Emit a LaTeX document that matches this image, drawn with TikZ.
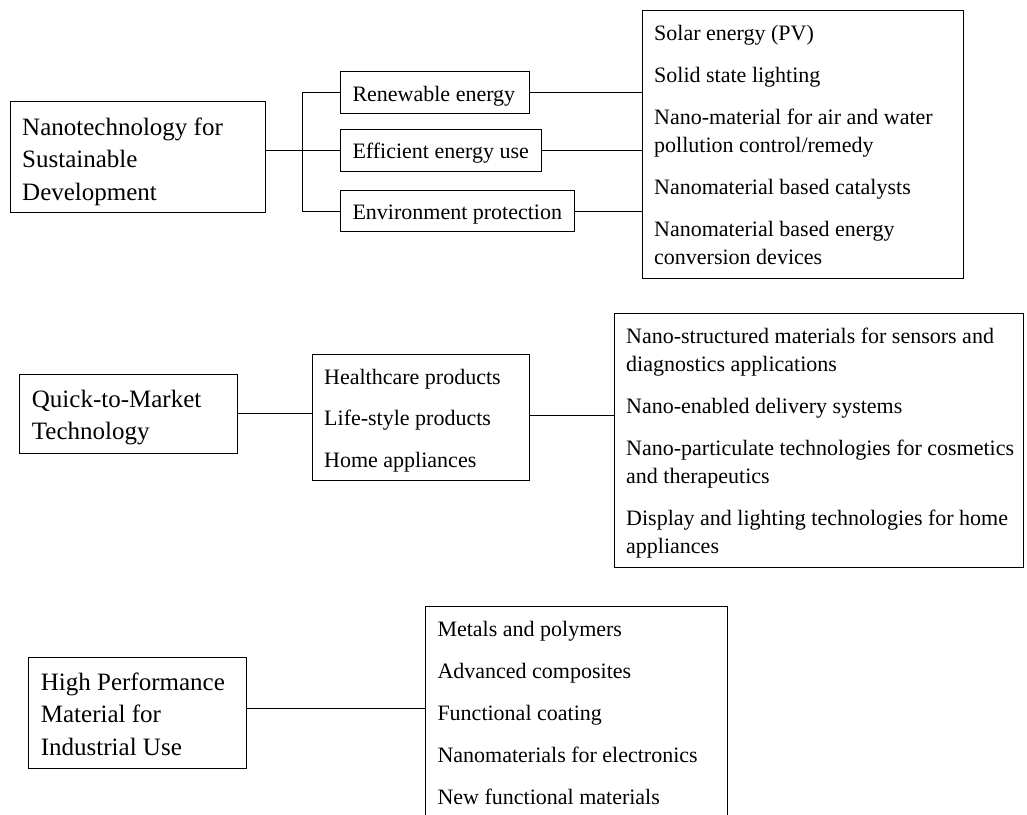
\documentclass[tikz,border=0pt]{standalone}
\usepackage{fontspec}
\setmainfont{Liberation Serif}
\begin{document}
\begin{tikzpicture}[x=1pt,y=-1pt,
  box/.style={draw=black, line width=0.9pt, rectangle, inner sep=0pt, anchor=north west},
  head/.style={anchor=base west, inner sep=0pt, font=\fontsize{25}{32.5}\selectfont},
  itemtext/.style={anchor=base west, inner sep=0pt, font=\fontsize{22}{28}\selectfont},
  link/.style={draw=black, line width=0.9pt}]
\useasboundingbox (0,0) rectangle (1027,814);
\clip (0,0) rectangle (1027,814);

% ---- Nanotechnology for Sustainable Development ----
\node[box, minimum width=255.5pt, minimum height=111pt] (nano) at (9.5,101) {};
\node[head] (nanoT) at (22,135) {\parbox[t]{240pt}{Nanotechnology for\\Sustainable\\Development}};

\node[box, minimum width=188.6pt, minimum height=42pt] (ren) at (340,71) {};
\node[itemtext] (renT) at (352.3,101.7) {Renewable energy};
\node[box, minimum width=201pt, minimum height=41.7pt] (eff) at (340,129) {};
\node[itemtext] (effT) at (352.3,158.3) {Efficient energy use};
\node[box, minimum width=233.6pt, minimum height=41.6pt] (env) at (340,189.7) {};
\node[itemtext] (envT) at (352.3,219) {Environment protection};

\node[box, minimum width=321pt, minimum height=268pt] (list1) at (642,10) {};
\node[itemtext] (list1T) at (654,40) {\parbox[t]{300pt}{\raggedright
  Solar energy (PV)\\[14pt]
  Solid state lighting\\[14pt]
  Nano-material for air and water\\pollution control/remedy\\[14pt]
  Nanomaterial based catalysts\\[14pt]
  Nanomaterial based energy\\conversion devices}};

\coordinate (trunk) at (302,0);
\draw[link] (nano.east |- eff.west) -- (eff.west);
\draw[link] (ren.west) -- (ren.west -| trunk) -- (env.west -| trunk) -- (env.west);
\draw[link] (ren.east) -- (ren.east -| list1.west);
\draw[link] (eff.east) -- (eff.east -| list1.west);
\draw[link] (env.east) -- (env.east -| list1.west);

% ---- Quick-to-Market Technology ----
\node[box, minimum width=218pt, minimum height=78.7pt] (quick) at (18.7,374) {};
\node[head] (quickT) at (31.7,407.3) {\parbox[t]{200pt}{Quick-to-Market\\Technology}};

\node[box, minimum width=216.9pt, minimum height=126pt] (mid) at (311.7,354) {};
\node[itemtext] (midT) at (324,384) {\parbox[t]{200pt}{\raggedright
  Healthcare products\\[13.6pt]
  Life-style products\\[13.6pt]
  Home appliances}};

\node[box, minimum width=408.4pt, minimum height=253.6pt] (list2) at (614.3,313.4) {};
\node[itemtext] (list2T) at (626,343.3) {\parbox[t]{400pt}{\raggedright
  Nano-structured materials for sensors and\\diagnostics applications\\[14pt]
  Nano-enabled delivery systems\\[14pt]
  Nano-particulate technologies for cosmetics\\and therapeutics\\[14pt]
  Display and lighting technologies for home\\appliances}};

\draw[link] (quick.east) -- (quick.east -| mid.west);
\draw[link] ([yshift=2.5pt]mid.east) -- ([yshift=2.5pt]mid.east -| list2.west);

% ---- High Performance Material for Industrial Use ----
\node[box, minimum width=217.7pt, minimum height=111.6pt] (hp) at (28.3,656.7) {};
\node[head] (hpT) at (40.7,690) {\parbox[t]{200pt}{High Performance\\Material for\\Industrial Use}};

\node[box, minimum width=301.7pt, minimum height=240pt] (list3) at (425,606) {};
\node[itemtext] (list3T) at (437.3,636.7) {\parbox[t]{290pt}{\raggedright
  Metals and polymers\\[14pt]
  Advanced composites\\[14pt]
  Functional coating\\[14pt]
  Nanomaterials for electronics\\[14pt]
  New functional materials}};

\draw[link] ([yshift=5pt]hp.east) -- ([yshift=5pt]hp.east -| list3.west);
\end{tikzpicture}
\end{document}
